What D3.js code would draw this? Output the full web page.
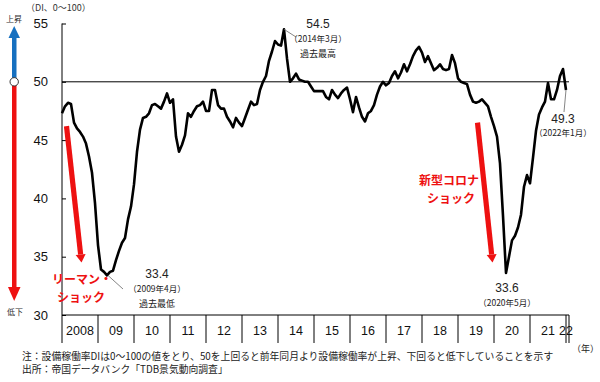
<!DOCTYPE html>
<html lang="ja">
<head>
<meta charset="utf-8">
<title>設備稼働率DI</title>
<script src="https://d3js.org/d3.v7.min.js"></script>
<style>
  body { margin: 0; background: #fff; }
  svg text { font-family: "Liberation Sans", "Noto Sans CJK JP", sans-serif; }
  .jp { font-family: "Noto Sans CJK JP", sans-serif; }
</style>
</head>
<body>
<svg id="chart" width="600" height="382"></svg>
<script>
// monthly DI, Jan 2008 .. Jan 2022
var di2008 = [47.3, 47.9, 48.2, 48.1, 46.5, 46.0, 45.7, 45.3, 44.7, 43.6, 42.2, 39.6];
var di2009 = [36.0, 33.9, 33.7, 33.4, 33.7, 33.8, 34.7, 35.5, 36.2, 36.6, 38.2, 39.3];
var di2010 = [41.2, 44.0, 45.9, 46.9, 47.0, 47.3, 48.0, 48.1, 47.9, 47.7, 48.3, 49.0];
var di2011 = [48.2, 48.5, 45.3, 44.0, 44.6, 45.4, 47.3, 47.0, 47.5, 47.9, 48.0, 48.3];
var di2012 = [47.5, 47.5, 49.3, 49.3, 48.0, 47.7, 47.7, 47.0, 46.6, 46.1, 46.9, 46.5];
var di2013 = [46.2, 46.9, 47.6, 48.3, 48.0, 48.1, 49.3, 50.0, 50.5, 51.8, 52.6, 53.5];
var di2014 = [53.2, 53.1, 54.5, 52.0, 50.0, 50.3, 50.7, 50.2, 50.1, 50.0, 50.0, 49.6];
var di2015 = [49.2, 49.2, 49.2, 49.2, 48.7, 48.5, 49.3, 48.9, 48.6, 49.0, 49.3, 49.5];
var di2016 = [48.5, 47.4, 48.7, 47.8, 47.0, 46.6, 47.3, 47.5, 48.0, 48.9, 49.6, 50.0];
var di2017 = [49.7, 49.9, 50.5, 50.9, 50.3, 50.8, 51.5, 50.9, 51.5, 52.2, 52.7, 53.0];
var di2018 = [52.5, 51.7, 52.2, 51.6, 51.0, 51.2, 51.5, 51.1, 51.0, 51.1, 52.3, 51.6];
var di2019 = [50.3, 50.0, 49.9, 49.8, 48.9, 48.3, 48.2, 48.3, 48.5, 48.2, 47.9, 47.0];
var di2020 = [46.2, 45.3, 43.0, 38.5, 33.6, 35.0, 36.4, 36.8, 37.5, 38.6, 41.0, 42.0];
var di2021 = [41.3, 43.5, 45.8, 47.2, 47.8, 48.3, 49.9, 48.5, 48.5, 49.3, 50.5, 51.1];
var di2022 = [49.3];

var yearLabels = ["2008", "09", "10", "11", "12", "13", "14", "15", "16", "17", "18", "19", "20", "21", "22"];
var yTicks = [30, 35, 40, 45, 50, 55];

var values = [].concat(di2008, di2009, di2010, di2011, di2012, di2013, di2014,
    di2015, di2016, di2017, di2018, di2019, di2020, di2021, di2022);

var svg = d3.select("#chart");

var x = d3.scaleLinear().domain([0, values.length]).range([62, 569]);
var y = d3.scaleLinear().domain([30, 55]).range([315, 23.5]);

// reference line at 50
svg.append("line")
    .attr("x1", x(0)).attr("x2", x(values.length))
    .attr("y1", y(50)).attr("y2", y(50))
    .attr("stroke", "#000").attr("stroke-width", 1);

// y axis
var yAxis = d3.axisRight(y).tickValues(yTicks).tickSize(4).tickFormat("");
var yg = svg.append("g").attr("transform", "translate(" + x(0) + ",0)").call(yAxis);
yg.select(".domain").attr("d", "M0," + y(55) + "V" + y(30));
yg.selectAll("line").attr("stroke", "#000");

svg.selectAll(".ylab").data(yTicks).enter().append("text")
    .attr("class", "ylab")
    .attr("x", 48).attr("y", function (d) { return y(d); })
    .attr("dy", "0.36em")
    .attr("text-anchor", "end")
    .attr("font-size", 13)
    .attr("fill", "#111")
    .text(function (d) { return d; });

// x axis: baseline + year boundaries
svg.append("line")
    .attr("x1", x(0)).attr("x2", x(values.length))
    .attr("y1", y(30)).attr("y2", y(30))
    .attr("stroke", "#000");

var bounds = yearLabels.map(function (d, i) { return i * 12; }).concat([values.length]);
svg.selectAll(".ytick").data(bounds).enter().append("line")
    .attr("x1", function (d) { return x(d); })
    .attr("x2", function (d) { return x(d); })
    .attr("y1", y(30)).attr("y2", y(30) + 28)
    .attr("stroke", "#000");

svg.selectAll(".xlab").data(yearLabels).enter().append("text")
    .attr("x", function (d, i) {
        var a = i * 12, b = Math.min(a + 12, values.length);
        return i === yearLabels.length - 1 ? x(a) : x((a + b) / 2);
    })
    .attr("y", 335)
    .attr("text-anchor", "middle")
    .attr("font-size", 12.5)
    .attr("fill", "#111")
    .text(function (d) { return d; });

svg.append("text").attr("class", "jp")
    .attr("x", 572).attr("y", 352)
    .attr("font-size", 9).attr("fill", "#222")
    .text("（年）");

svg.append("text").attr("class", "jp")
    .attr("x", 26).attr("y", 11)
    .attr("font-size", 9).attr("fill", "#333")
    .text("（DI、0～100）");

// DI line
var line = d3.line()
    .x(function (d, i) { return x(i); })
    .y(function (d) { return y(d); });

svg.append("path").datum(values)
    .attr("d", line)
    .attr("fill", "none")
    .attr("stroke", "#000")
    .attr("stroke-width", 2.6)
    .attr("stroke-linejoin", "round");

// left indicator arrows
svg.append("rect").attr("x", 12).attr("y", 36).attr("width", 4.5).attr("height", 42).attr("fill", "#1670c0");
svg.append("path").attr("d", "M8.5,38 L14.2,26 L20,38 Z").attr("fill", "#1670c0");
svg.append("rect").attr("x", 12).attr("y", 84).attr("width", 4.5).attr("height", 204).attr("fill", "#ee1111");
svg.append("path").attr("d", "M8,287 L14.2,301 L20.5,287 Z").attr("fill", "#ee1111");
svg.append("circle").attr("cx", 14.2).attr("cy", y(50)).attr("r", 4.2)
    .attr("fill", "#fff").attr("stroke", "#333").attr("stroke-width", 1);
svg.append("text").attr("class", "jp").attr("x", 14).attr("y", 22)
    .attr("text-anchor", "middle").attr("font-size", 8).attr("fill", "#333").text("上昇");
svg.append("text").attr("class", "jp").attr("x", 15).attr("y", 315)
    .attr("text-anchor", "middle").attr("font-size", 8).attr("fill", "#333").text("低下");

// shock arrows
function shockArrow(m0, v0, m1, v1) {
    var x0 = x(m0), y0 = y(v0), x1 = x(m1), y1 = y(v1);
    var ang = Math.atan2(y1 - y0, x1 - x0);
    var len = Math.hypot(x1 - x0, y1 - y0) - 8;
    var g = svg.append("g").attr("transform", "translate(" + x0 + "," + y0 + ") rotate(" + (ang * 180 / Math.PI) + ")");
    g.append("rect").attr("x", 0).attr("y", -2.6).attr("width", len).attr("height", 5.2).attr("fill", "#ee1111");
    g.append("path").attr("d", "M" + len + ",-5 L" + (len + 8) + ",0 L" + len + ",5 Z").attr("fill", "#ee1111");
}
shockArrow(1.5, 46.2, 6.5, 34.5);
shockArrow(138.5, 46.5, 143.5, 34.5);

var red = svg.append("g").attr("class", "jp").attr("fill", "#ee1111")
    .attr("font-size", 12).attr("font-weight", "bold");
red.append("text").attr("x", 52).attr("y", 284).text("リーマン・");
red.append("text").attr("x", 57).attr("y", 302).text("ショック");
red.append("text").attr("x", 419).attr("y", 185).text("新型コロナ");
red.append("text").attr("x", 427).attr("y", 203).text("ショック");

// value annotations
function note(cx, cy, lines) {
    lines.forEach(function (l) {
        svg.append("text").attr("class", l.jp ? "jp" : null)
            .attr("x", cx).attr("y", cy + l.dy)
            .attr("text-anchor", "middle")
            .attr("font-size", l.size).attr("fill", "#222")
            .text(l.t);
    });
}
function leader(m, v, x2, y2) {
    svg.append("line").attr("x1", x(m)).attr("y1", y(v)).attr("x2", x2).attr("y2", y2)
        .attr("stroke", "#666").attr("stroke-width", 0.8);
}

leader(74, 54.5, 296, 37);
note(318, 28, [{t: "54.5", dy: 0, size: 12}, {t: "（2014年3月）", dy: 14, size: 8.5, jp: 1}, {t: "過去最高", dy: 29, size: 9, jp: 1}]);

leader(15.3, 33.4, 123, 289);
note(157, 278, [{t: "33.4", dy: 0, size: 12}, {t: "（2009年4月）", dy: 14, size: 8.5, jp: 1}, {t: "過去最低", dy: 29, size: 9, jp: 1}]);

note(507, 292, [{t: "33.6", dy: 0, size: 12}, {t: "（2020年5月）", dy: 14, size: 8.5, jp: 1}]);

leader(168, 49.3, 564, 112);
note(563, 123, [{t: "49.3", dy: 0, size: 12}, {t: "（2022年1月）", dy: 13, size: 8.5, jp: 1}]);

// footnotes
svg.append("text").attr("class", "jp").attr("x", 22).attr("y", 360)
    .attr("font-size", 9.8).attr("fill", "#222")
    .text("注：設備稼働率DIは0～100の値をとり、50を上回ると前年同月より設備稼働率が上昇、下回ると低下していることを示す");
svg.append("text").attr("class", "jp").attr("x", 22).attr("y", 373)
    .attr("font-size", 9.8).attr("fill", "#222")
    .text("出所：帝国データバンク「TDB景気動向調査」");
</script>
</body>
</html>
